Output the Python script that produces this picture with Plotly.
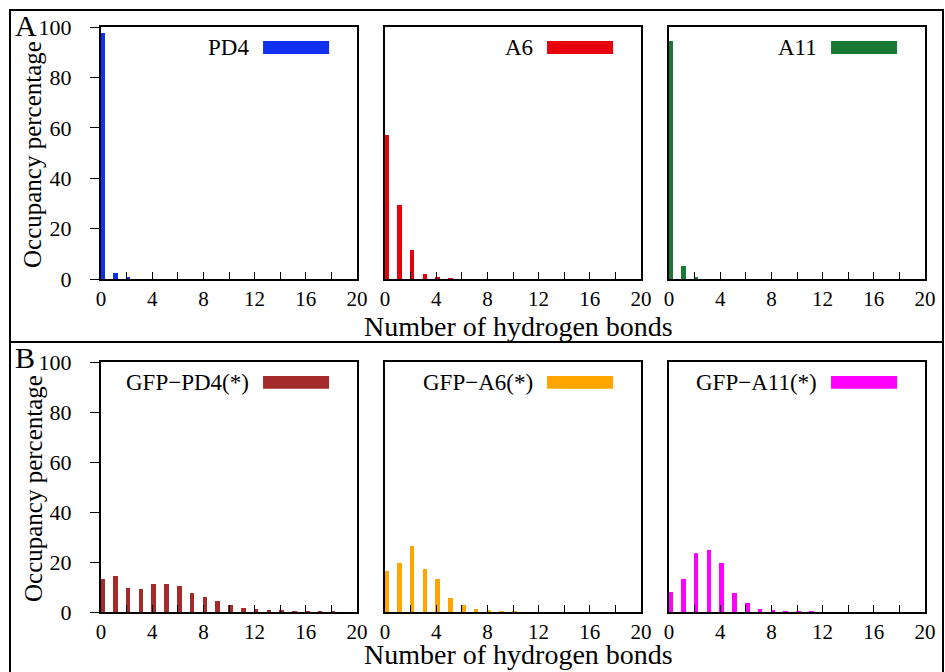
import plotly.graph_objects as go

# ---------------- data ----------------
hbonds_pd4 = [0, 1, 2]
occ_pd4 = [97.8, 2.5, 0.4]

hbonds_a6 = [0, 1, 2, 3, 4, 5]
occ_a6 = [57.3, 29.4, 11.5, 2.0, 0.5, 0.2]

hbonds_a11 = [0, 1, 2]
occ_a11 = [94.3, 5.3, 0.8]

hbonds_gfp_pd4 = list(range(0, 19))
occ_gfp_pd4 = [13.1, 14.3, 9.7, 9.2, 11.1, 11.1, 10.5, 7.6, 6.2, 4.3, 2.8,
               1.6, 1.1, 0.8, 0.5, 0.3, 0.15, 0.1, 0.1]

hbonds_gfp_a6 = list(range(0, 11))
occ_gfp_a6 = [16.6, 19.8, 26.3, 17.1, 13.4, 5.7, 2.7, 1.1, 0.6, 0.3, 0.15]

hbonds_gfp_a11 = list(range(0, 12))
occ_gfp_a11 = [8.1, 13.2, 23.8, 24.8, 19.7, 7.7, 3.8, 1.3, 0.7, 0.3, 0.2, 0.1]

names = ["PD4", "A6", "A11", "GFP\u2212PD4(*)", "GFP\u2212A6(*)", "GFP\u2212A11(*)"]
colors = ["#1030F0", "#E8000B", "#1A7A35", "#A52A2A", "#FFA500", "#FF00FF"]
xs = [hbonds_pd4, hbonds_a6, hbonds_a11, hbonds_gfp_pd4, hbonds_gfp_a6, hbonds_gfp_a11]
ys = [occ_pd4, occ_a6, occ_a11, occ_gfp_pd4, occ_gfp_a6, occ_gfp_a11]

x_tickvals = list(range(0, 21, 2))
x_ticktext = [str(v) if v % 4 == 0 else "" for v in x_tickvals]
y_tickvals = [0, 20, 40, 60, 80, 100]

FONT = "Liberation Serif"
W, H = 945, 672

# ---------------- layout geometry (pixels) ----------------
col_px = [(101, 357), (385, 641), (669, 925)]
row_px = [(27, 279), (362, 612)]

fig = go.Figure()
layout = dict(
    template="none",
    width=W, height=H, autosize=False,
    margin=dict(l=0, r=0, t=0, b=0, pad=0, autoexpand=False),
    paper_bgcolor="white", plot_bgcolor="white",
    showlegend=False,
    font=dict(family=FONT, color="black", size=20),
    bargap=0,
)
annotations = []
shapes = []

for i in range(6):
    r, c = divmod(i, 3)
    idx = i + 1
    xa = "x" if idx == 1 else f"x{idx}"
    ya = "y" if idx == 1 else f"y{idx}"
    fig.add_trace(go.Bar(
        x=xs[i], y=ys[i], xaxis=xa, yaxis=ya,
        width=0.36, offset=-0.07,
        marker=dict(color=colors[i], line=dict(width=0)),
        name=names[i],
    ))
    x0p, x1p = col_px[c]
    y0p, y1p = row_px[r]
    layout["xaxis" if idx == 1 else f"xaxis{idx}"] = dict(
        domain=[x0p / W, x1p / W], anchor=ya, range=[0, 20], automargin=False,
        tickmode="array", tickvals=x_tickvals, ticktext=x_ticktext,
        ticks="inside", ticklen=7, tickwidth=1, tickcolor="black",
        showline=True, linecolor="black", linewidth=2, mirror=True,
        showgrid=False, zeroline=False,
        tickfont=dict(family=FONT, size=21, color="black"),
        fixedrange=True,
    )
    layout["yaxis" if idx == 1 else f"yaxis{idx}"] = dict(
        domain=[1 - y1p / H, 1 - y0p / H], anchor=xa, range=[0, 100], automargin=False,
        tickmode="array", tickvals=y_tickvals,
        ticks="outside" if c == 0 else "", ticklen=9, tickwidth=1, tickcolor="black",
        showticklabels=(c == 0), ticklabelstandoff=14,
        showline=True, linecolor="black", linewidth=2, mirror=True,
        showgrid=False, zeroline=False,
        tickfont=dict(family=FONT, size=22, color="black"),
        fixedrange=True,
    )
    # legend entry: text + colour swatch
    annotations.append(dict(
        xref=f"{xa} domain", yref=f"{ya} domain",
        x=0.585, y=0.918, xanchor="right", yanchor="middle",
        text=names[i], showarrow=False,
        font=dict(family=FONT, size=23, color="black"),
    ))
    shapes.append(dict(
        type="rect", xref=f"{xa} domain", yref=f"{ya} domain",
        x0=0.633, x1=0.891, y0=0.893, y1=0.944,
        fillcolor=colors[i], line=dict(width=0),
    ))

# axis titles
for r, (y0p, y1p) in enumerate(row_px):
    annotations.append(dict(
        xref="paper", yref="paper", x=33 / W, y=1 - ((y0p + y1p) / 2 + 2) / H,
        text="Occupancy percentage", textangle=-90, showarrow=False,
        xanchor="center", yanchor="middle",
        font=dict(family=FONT, size=25, color="black"),
    ))
annotations.append(dict(
    xref="paper", yref="paper", x=518 / W, y=1 - 326 / H,
    text="Number of hydrogen bonds", showarrow=False,
    xanchor="center", yanchor="middle",
    font=dict(family=FONT, size=28, color="black"),
))
annotations.append(dict(
    xref="paper", yref="paper", x=518 / W, y=1 - 654 / H,
    text="Number of hydrogen bonds", showarrow=False,
    xanchor="center", yanchor="middle",
    font=dict(family=FONT, size=28, color="black"),
))
# panel letters
annotations.append(dict(
    xref="paper", yref="paper", x=13 / W, y=1 - 26 / H, text="A",
    showarrow=False, xanchor="left", yanchor="middle",
    font=dict(family=FONT, size=30, color="black"),
))
annotations.append(dict(
    xref="paper", yref="paper", x=13 / W, y=1 - 357 / H, text="B",
    showarrow=False, xanchor="left", yanchor="middle",
    font=dict(family=FONT, size=30, color="black"),
))

# outer frame and divider
shapes.append(dict(type="rect", xref="paper", yref="paper",
                   x0=10 / W, x1=943 / W, y0=-0.02, y1=1 - 10 / H,
                   line=dict(color="black", width=2), fillcolor="rgba(0,0,0,0)"))
shapes.append(dict(type="line", xref="paper", yref="paper",
                   x0=10 / W, x1=943 / W, y0=1 - 342 / H, y1=1 - 342 / H,
                   line=dict(color="black", width=2)))

layout["annotations"] = annotations
layout["shapes"] = shapes
fig.update_layout(**layout)
fig.write_html(
    "out.html",
    config={"responsive": False, "displayModeBar": False},
    post_script="document.body.style.margin='0px';document.body.style.overflow='hidden';",
)
